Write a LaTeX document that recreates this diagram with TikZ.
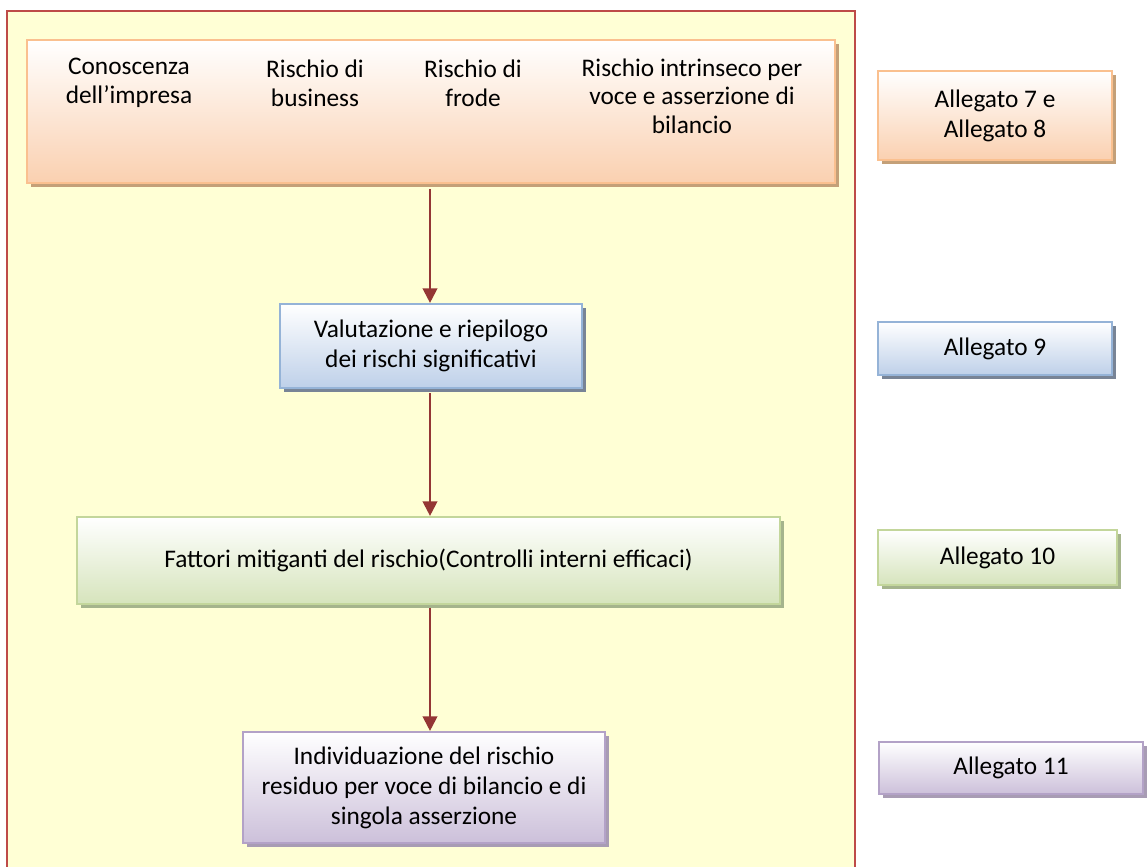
\documentclass[tikz,border=0pt]{standalone}
\usepackage{fontspec}
\setmainfont{Carlito}
\usetikzlibrary{shadows,arrows.meta}
\definecolor{frameline}{RGB}{190,75,72}
\definecolor{framefill}{RGB}{255,255,213}
\definecolor{arrowred}{RGB}{148,54,52}
\definecolor{orangeline}{RGB}{250,192,143}
\definecolor{orangefill}{RGB}{250,208,176}
\definecolor{orangeshadow}{RGB}{196,160,120}
\definecolor{blueline}{RGB}{149,179,215}
\definecolor{bluefill}{RGB}{190,208,233}
\definecolor{blueshadow}{RGB}{120,132,150}
\definecolor{greenline}{RGB}{195,214,155}
\definecolor{greenfill}{RGB}{214,228,188}
\definecolor{greenshadow}{RGB}{165,180,140}
\definecolor{purpleline}{RGB}{179,162,199}
\definecolor{purplefill}{RGB}{204,192,218}
\definecolor{purpleshadow}{RGB}{168,156,180}
\tikzset{
  box/.style={rectangle, inner sep=0pt, line width=1.6pt, align=center,
    font=\fontsize{19}{22.5}\selectfont},
  orangebox/.style={box, draw=orangeline, top color=white, bottom color=orangefill,
    drop shadow={shadow xshift=3pt, shadow yshift=-3pt, fill=orangeshadow, opacity=1}},
  bluebox/.style={box, draw=blueline, top color=white, bottom color=bluefill,
    drop shadow={shadow xshift=3pt, shadow yshift=-3pt, fill=blueshadow, opacity=1}},
  greenbox/.style={box, draw=greenline, top color=white, bottom color=greenfill,
    drop shadow={shadow xshift=3pt, shadow yshift=-3pt, fill=greenshadow, opacity=1}},
  purplebox/.style={box, draw=purpleline, top color=white, bottom color=purplefill,
    drop shadow={shadow xshift=3pt, shadow yshift=-3pt, fill=purpleshadow, opacity=1}},
  label/.style={inner sep=0pt, align=center, font=\fontsize{19}{21.5}\selectfont},
  flow/.style={draw=arrowred, line width=1.6pt,
    -{Triangle[length=11pt,width=11pt]}},
}
\begin{document}
\begin{tikzpicture}[x=0.75pt,y=-0.75pt]
\useasboundingbox (0,0) rectangle (1147,867);
\begin{scope}
  \clip (0,0) rectangle (1147,867);
  \draw[frameline, fill=framefill, line width=1.5pt] (7,11) rectangle (855,890);
\end{scope}

% knowledge and risk sources
\node[orangebox, minimum width=606pt, minimum height=107pt] (sources) at (431,111.5) {};
\node[label] (t1) at (129,83) {Conoscenza\\dell’impresa};
\node[label] (t2) at (315,83) {Rischio di\\business};
\node[label] (t3) at (473,83) {Rischio di\\frode};
\node[label] (t4) at (692,96) {Rischio intrinseco per\\voce e asserzione di\\bilancio};

% assessment chain
\node[bluebox, minimum width=226.5pt, minimum height=63pt] (valut) at (431,346)
  {Valutazione e riepilogo\\dei rischi significativi};
\node[greenbox, minimum width=527.25pt, minimum height=65.25pt] (fatt) at (428.5,560.5)
  {Fattori mitiganti del rischio(Controlli interni efficaci)};
\node[purplebox, minimum width=271.5pt, minimum height=83.25pt] (indiv) at (424,787.5)
  {Individuazione del rischio\\residuo per voce di bilancio e di\\singola asserzione};

% annex references
\node[orangebox, minimum width=175.5pt, minimum height=66.75pt] (a78) at (995,115.5)
  {Allegato 7 e\\Allegato 8};
\node[bluebox, minimum width=175.5pt, minimum height=39.75pt] (a9) at (995,348.5)
  {Allegato 9};
\node[greenbox, minimum width=179.25pt, minimum height=41.25pt] (a10) at (997.5,557.5)
  {Allegato 10};
\node[purplebox, minimum width=198pt, minimum height=39pt] (a11) at (1011,768)
  {Allegato 11};

% connectors
\coordinate (s1) at ([yshift=-4pt]sources.south -| 430,0);
\draw[flow] (s1) -- (s1 |- valut.north);
\coordinate (s2) at ([yshift=-3pt]valut.south -| 430,0);
\draw[flow] (s2) -- (s2 |- fatt.north);
\coordinate (s3) at ([yshift=-2pt]fatt.south -| 430,0);
\draw[flow] (s3) -- (s3 |- indiv.north);
\end{tikzpicture}
\end{document}
